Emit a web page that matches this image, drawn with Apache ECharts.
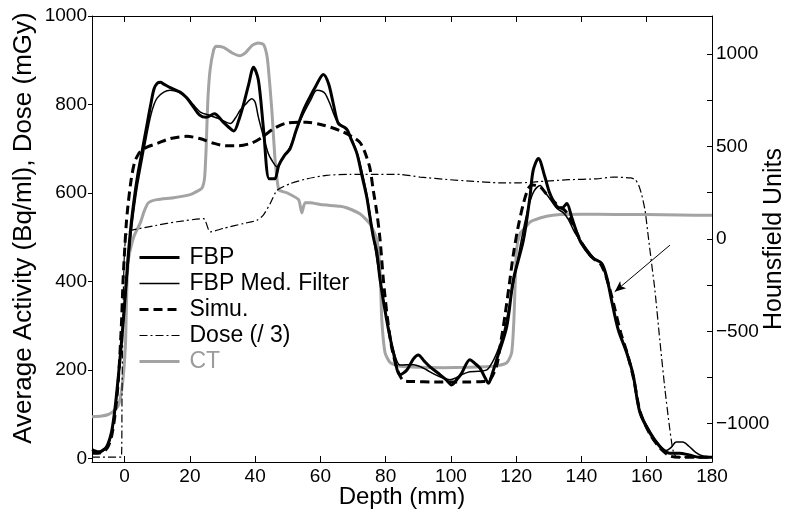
<!DOCTYPE html>
<html>
<head>
<meta charset="utf-8">
<script src="https://cdn.jsdelivr.net/npm/echarts@6/dist/echarts.min.js"></script>
<style>
  html, body { margin: 0; padding: 0; background: #fff; }
  #chart { width: 789px; height: 522px; }
</style>
</head>
<body>
<div id="chart"></div>
<script>
// depth (mm) vs average activity (Bq/ml)
const fbp = [[-10,20],[-8,15],[-6,22],[-5,35],[-4,60],[-3,110],[-2,180],[-1,260],[0,350],[1,450],[2,530],[3,590],[4,640],[5,680],[6,720],[7,760],[8,800],[9,835],[10,848],[11,850],[12,846],[14,838],[17,828],[19,815],[21,795],[23,776],[25,771],[27.5,779],[30,762],[32,748],[33.5,740],[35,765],[36.5,802],[38,845],[39.5,884],[41,855],[42.6,741],[44.3,632],[46,632],[47.2,662],[49,685],[50.7,700],[52.5,740],[54.8,787],[57,820],[58.4,839],[60.9,868],[62.5,847],[64,800],[65.5,757],[68,745],[69.5,720],[71.2,689],[72.7,640],[74.2,591],[75.2,545],[76.2,501],[77.3,465],[78.3,403],[80.3,313],[82.4,238],[84.4,189],[86.5,200],[88.5,225],[90,234],[91.8,220],[93.6,207],[96.7,189],[98.5,178],[100.2,166],[102,180],[103.3,193],[105.8,223],[107.3,215],[108.9,204],[110.5,182],[111.5,170],[112.8,195],[114,223],[117.1,298],[119.1,403],[122.2,493],[124.2,591],[125.2,651],[126.8,678],[128.8,636],[130.3,599],[132.4,570],[134,566],[135.5,576],[137,545],[139.5,493],[141.5,470],[143.6,452],[146.2,441],[147.7,411],[149.2,358],[151.3,290],[153.8,240],[155.8,190],[157.9,104],[161,57],[164,27],[167,12],[170,12],[173,8],[176,3],[180,3]];

const fbpMed = [[-10,15],[-8,12],[-6,20],[-5,30],[-4,55],[-3,100],[-2,170],[-1,250],[0,340],[1,430],[2,510],[3,570],[4,620],[5,660],[6,700],[7,740],[8,775],[9,800],[10,815],[12,828],[14,832],[16.5,828],[19,817],[21,800],[23.2,783],[26.2,775],[28.8,768],[30.5,762],[32.4,757],[34,770],[35.4,787],[37,800],[39,813],[40,805],[41,771],[42.6,726],[44,690],[45.1,674],[46.7,659],[48.5,680],[50.7,704],[52.5,740],[54.8,779],[57,810],[58.9,832],[60.5,830],[61.5,824],[63,800],[65,764],[68.1,741],[70,715],[71.5,685],[73,640],[74.5,585],[76.2,501],[78.3,403],[80.3,318],[82,255],[84.4,211],[86.5,212],[88.5,212],[90.5,208],[92.6,200],[95,190],[97.5,182],[99.7,178],[101.5,182],[103.5,190],[105.8,196],[108.5,197],[111,200],[112.5,215],[114,238],[116,280],[118,350],[120,430],[122,510],[124,575],[125.5,605],[127.3,617],[129,600],[130.5,585],[132.5,565],[134.5,555],[136,540],[138,510],[140,490],[143.6,455],[146,440],[147.7,405],[149.2,360],[151.3,292],[153.8,245],[155.8,185],[157.9,108],[161,62],[164,30],[166,18],[167.5,25],[169,37],[171,37],[173,27],[175,14],[177,6],[180,3]];

const simu = [[-10,12],[-8,12],[-6,18],[-5,28],[-4,50],[-3,95],[-2,170],[-1,300],[-0.5,400],[0,470],[0.5,530],[1,570],[2,630],[3,668],[4,685],[5,695],[7,704],[10,712],[14,723],[19,728],[23,723],[27,713],[31,707],[35,707],[39,713],[42,725],[45.6,745],[49.7,758],[55.8,760],[61,753],[66,741],[70,726],[72,715],[73.2,700],[74.2,680],[75.2,655],[76.2,606],[77.3,555],[78.3,493],[79.3,403],[80.5,320],[82,245],[83.9,195],[85.5,176],[88,174],[95,173],[100,173],[105,173],[110,174],[112,178],[114,210],[115,250],[116.5,320],[118,400],[119.1,460],[120.5,520],[122.2,576],[123.7,610],[125,618],[127.3,614],[129,600],[131,585],[133,570],[135,560],[137,535],[139.5,495],[142,465],[144,450],[146,438],[148,400],[150,345],[152,285],[154,238],[156,180],[158,105],[161,55],[164,24],[167,6],[170,3],[175,3],[180,3]];

// dose divided by 3 (mGy), left axis
const dose = [[-10,3],[-1,3],[-0.8,150],[-0.5,320],[-0.2,440],[0.3,500],[1,510],[2.3,516],[9.9,527],[16,535],[24.2,542],[26.2,512],[30.3,520],[36.4,531],[40.5,538],[42.5,550],[44.6,576],[46.7,606],[50.7,621],[55.8,632],[61.9,640],[69.1,642],[76.2,642],[84.4,642],[90.5,636],[99.7,630],[105.8,627],[115,623],[121.2,623],[129.3,627],[136,630],[144.6,632],[149.7,636],[155,634],[156.5,630],[157.5,618],[158.5,595],[159.5,560],[160.5,500],[161.5,440],[162.5,381],[164,268],[165.6,155],[167,70],[168,20],[169,4],[172,3],[180,3]];

// CT in Hounsfield units, right axis
const ct = [[-10,-962],[-7,-958],[-5,-950],[-4,-940],[-3,-925],[-2,-905],[-1.3,-860],[-0.7,-790],[-0.2,-700],[0.3,-550],[0.7,-250],[1.2,-110],[2,-40],[3,20],[4.8,86],[6,150],[7.3,195],[9.9,212],[15,222],[20.1,239],[22,255],[23.7,275],[24.5,330],[25,500],[25.5,750],[26.2,915],[27.3,1023],[28,1041],[30.3,1035],[33,1005],[35.4,990],[37,1005],[39,1045],[41,1059],[42.6,1050],[43.5,1000],[44,933],[45.1,699],[46.1,429],[47.2,266],[48.5,255],[49.7,249],[53.3,212],[54.3,140],[55.3,195],[57,195],[60,185],[66,176],[68,168],[72.1,135],[75.2,80],[77.3,-4],[78.3,-184],[78.8,-436],[79.8,-616],[81.4,-670],[84.4,-689],[90,-695],[97.7,-697],[105,-695],[113,-689],[117.1,-670],[118.6,-616],[119.3,-436],[120.1,-58],[121.2,30],[122.2,50],[124.2,90],[125.2,100],[129.3,122],[133.4,131],[140,133],[150,132],[160,131],[170,129],[180,127]];

const depthTicks = [0, 20, 40, 60, 80, 100, 120, 140, 160, 180];
const activityTicks = [0, 200, 400, 600, 800, 1000];
const huTicks = [-1000, -750, -500, -250, 0, 250, 500, 750, 1000];
const huLabels = [-1000, -500, 0, 500, 1000];
const arrowFrom = [167.1, 482];
const arrowTo = [150.2, 377];

const chart = echarts.init(document.getElementById('chart'), null, { renderer: 'canvas' });

const font = 'Liberation Sans, Arial, Helvetica, sans-serif';
const axisLine = { show: true, onZero: false, lineStyle: { color: '#000', width: 1 } };
const plain = v => String(v).replace('-', '\u2212');

chart.setOption({
  animation: false,
  backgroundColor: '#fff',
  textStyle: { fontFamily: font },
  grid: { left: 92, right: 77, top: 16, bottom: 60, containLabel: false, outerBoundsMode: 'none' },
  legend: {
    orient: 'vertical',
    left: 133,
    top: 241,
    itemWidth: 40,
    itemHeight: 14,
    itemGap: 3,
    itemStyle: { color: 'rgba(0,0,0,0)', borderColor: 'rgba(0,0,0,0)', borderWidth: 0 },
    textStyle: { fontSize: 23, color: '#000', fontFamily: font, padding: [0, 0, 0, 5] },
    data: [
      { name: 'FBP', lineStyle: { width: 3 } },
      { name: 'FBP Med. Filter', lineStyle: { width: 1.5 } },
      { name: 'Simu.', lineStyle: { width: 3 } },
      { name: 'Dose (/ 3)', lineStyle: { width: 1.2 } },
      { name: 'CT', lineStyle: { width: 3 }, textStyle: { color: '#9c9c9c' } }
    ]
  },
  xAxis: [
    {
      type: 'value',
      min: -10,
      max: 180,
      position: 'bottom',
      axisLine: axisLine,
      axisTick: { inside: true, length: 6, customValues: depthTicks, lineStyle: { color: '#000' } },
      axisLabel: { customValues: depthTicks, fontSize: 19, color: '#000', margin: 5, formatter: plain },
      splitLine: { show: false },
      name: 'Depth (mm)',
      nameLocation: 'middle',
      nameGap: 23,
      nameMoveOverlap: false,
      nameTextStyle: { fontSize: 24, color: '#000', verticalAlign: 'top' }
    },
    {
      type: 'value',
      min: -10,
      max: 180,
      position: 'top',
      axisLine: axisLine,
      axisTick: { inside: true, length: 6, customValues: depthTicks, lineStyle: { color: '#000' } },
      axisLabel: { show: false },
      splitLine: { show: false }
    }
  ],
  yAxis: [
    {
      type: 'value',
      min: -8,
      max: 1000,
      position: 'left',
      axisLine: axisLine,
      axisTick: { inside: false, length: 4, customValues: activityTicks, lineStyle: { color: '#000' } },
      axisLabel: { customValues: activityTicks, fontSize: 19, color: '#000', margin: 5, formatter: plain },
      splitLine: { show: false },
      name: 'Average Activity (Bq/ml), Dose (mGy)',
      nameLocation: 'middle',
      nameGap: 55,
      nameMoveOverlap: false,
      nameTextStyle: { fontSize: 26, color: '#000', padding: [0, 0, 0, 22] }
    },
    {
      type: 'value',
      min: -1207,
      max: 1205,
      position: 'right',
      axisLine: axisLine,
      axisTick: { inside: true, length: 5, customValues: huTicks, lineStyle: { color: '#000' } },
      axisLabel: { customValues: huLabels, fontSize: 19, color: '#000', margin: 4, formatter: plain },
      splitLine: { show: false },
      name: 'Hounsfield Units',
      nameLocation: 'middle',
      nameGap: 50,
      nameMoveOverlap: false,
      nameTextStyle: { fontSize: 25, color: '#000' }
    }
  ],
  series: [
    {
      name: 'CT',
      type: 'line',
      yAxisIndex: 1,
      data: ct,
      symbol: 'none',
      smooth: 0.2,
      lineStyle: { color: '#a3a3a3', width: 3 },
      itemStyle: { color: '#a3a3a3' },
      z: 1
    },
    {
      name: 'Dose (/ 3)',
      type: 'line',
      data: dose,
      symbol: 'none',
      smooth: 0.2,
      lineStyle: { color: '#000', width: 1.2, type: [8, 3, 2, 3] },
      itemStyle: { color: '#000' },
      z: 2
    },
    {
      name: 'Simu.',
      type: 'line',
      data: simu,
      symbol: 'none',
      smooth: 0.3,
      lineStyle: { color: '#000', width: 3, type: [9, 5] },
      itemStyle: { color: '#000' },
      z: 3
    },
    {
      name: 'FBP Med. Filter',
      type: 'line',
      data: fbpMed,
      symbol: 'none',
      smooth: 0.3,
      lineStyle: { color: '#000', width: 1.5 },
      itemStyle: { color: '#000' },
      z: 4
    },
    {
      name: 'FBP',
      type: 'line',
      data: fbp,
      symbol: 'none',
      smooth: 0.3,
      lineStyle: { color: '#000', width: 3 },
      itemStyle: { color: '#000' },
      z: 5,
      markLine: {
        silent: true,
        symbol: ['none', 'arrow'],
        symbolSize: [7, 11],
        label: { show: false },
        lineStyle: { color: '#000', width: 1, type: 'solid' },
        data: [[{ coord: arrowFrom }, { coord: arrowTo }]]
      }
    }
  ]
});
</script>
</body>
</html>
